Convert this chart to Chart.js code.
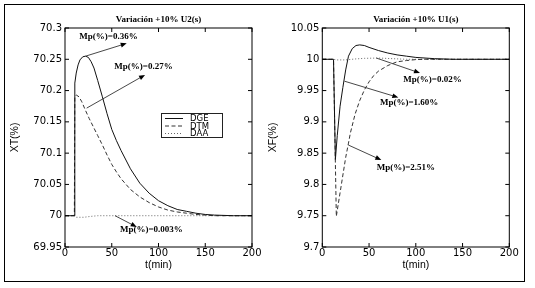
<!DOCTYPE html>
<html>
<head>
<meta charset="utf-8">
<script src="https://cdn.jsdelivr.net/npm/chart.js@4"></script>
<style>
  html, body { margin: 0; padding: 0; background: #fff; }
  #wrap { position: relative; width: 535px; height: 288px; overflow: hidden; background: #fff; }
  #frame { position: absolute; left: 4px; top: 4px; width: 521px; height: 278px; border: 1.5px solid #000; box-sizing: border-box; }
  canvas { position: absolute; top: 0; }
  #c1 { left: 0; }
  #c2 { left: 267px; }
</style>
</head>
<body>
<div id="wrap">
  <div id="frame"></div>
  <canvas id="c1" width="267" height="288"></canvas>
  <canvas id="c2" width="268" height="288"></canvas>
</div>
<script>
// tick labels
const xTicks = [0, 50, 100, 150, 200];
const xtTicks = [69.95, 70, 70.05, 70.1, 70.15, 70.2, 70.25, 70.3];
const xfTicks = [9.7, 9.75, 9.8, 9.85, 9.9, 9.95, 10, 10.05];
const seriesNames = ["DGE", "DTM", "DAA"];

// XT(%) after +10% in U2(s)
const tXtDge = [0, 10, 10.5, 12, 14, 16, 19, 22, 25, 28, 31, 35, 40, 45, 50, 55, 60, 70, 80, 90, 100, 110, 120, 130, 140, 150, 160, 180, 200];
const xtDge = [70, 70, 70.212, 70.228, 70.241, 70.249, 70.254, 70.255, 70.253, 70.246, 70.236, 70.216, 70.19, 70.163, 70.138, 70.12, 70.104, 70.075, 70.052, 70.036, 70.024, 70.016, 70.01, 70.007, 70.004, 70.002, 70.001, 70, 70];
const tXtDtm = [0, 10, 10.5, 12, 15, 18, 22, 26, 30, 35, 40, 45, 50, 55, 60, 70, 80, 90, 100, 110, 120, 130, 140, 150, 160, 200];
const xtDtm = [70, 70, 70.19, 70.193, 70.19, 70.182, 70.168, 70.155, 70.143, 70.128, 70.113, 70.097, 70.082, 70.07, 70.059, 70.042, 70.03, 70.021, 70.014, 70.009, 70.006, 70.004, 70.002, 70.001, 70, 70];
const tXtDaa = [0, 10, 12, 20, 28, 35, 200];
const xtDaa = [70, 70, 69.9975, 69.9975, 69.999, 70, 70];

// XF(%) after +10% in U1(s)
const tXfDge = [0, 12, 14, 16, 19, 22, 25, 28, 32, 36, 40, 45, 50, 60, 70, 80, 90, 100, 120, 140, 200];
const xfDge = [10, 10, 9.84, 9.878, 9.925, 9.955, 9.983, 10.005, 10.017, 10.022, 10.023, 10.022, 10.019, 10.014, 10.01, 10.007, 10.005, 10.003, 10.001, 10, 10];
const tXfDtm = [0, 12, 15, 20, 25, 28, 30, 35, 40, 45, 50, 55, 60, 70, 80, 90, 100, 110, 200];
const xfDtm = [10, 10, 9.749, 9.796, 9.843, 9.866, 9.882, 9.912, 9.934, 9.951, 9.964, 9.974, 9.981, 9.99, 9.996, 9.998, 9.9995, 10, 10];
const tXfDaa = [0, 12, 15, 25, 35, 45, 60, 75, 90, 200];
const xfDaa = [10, 10, 9.999, 9.999, 10.0005, 10.0015, 10.002, 10.001, 10, 10];

// overshoot notes (data coordinates)
const xtNotes = [
  { text: "Mp(%)=0.36%", from: [22, 70.255], to: [66, 70.2755], at: [15.3, 70.286] },
  { text: "Mp(%)=0.27%", from: [23.2, 70.172], to: [85.6, 70.225], at: [52.7, 70.238] },
  { text: "Mp(%)=0.003%", from: [53.5, 70.0], to: [76.7, 69.982], at: [58.8, 69.977] }
];
const xfNotes = [
  { text: "Mp(%)=0.02%", from: [57.8, 10.002], to: [104.5, 9.978], at: [86.6, 9.967] },
  { text: "Mp(%)=1.60%", from: [23.7, 9.965], to: [81.3, 9.939], at: [61.7, 9.930] },
  { text: "Mp(%)=2.51%", from: [27.8, 9.863], to: [63.1, 9.839], at: [58.2, 9.826] }
];

const pts = (t, v) => t.map((x, i) => ({ x: x, y: v[i] }));
const styles = [
  { borderColor: "#111", borderDash: [] },
  { borderColor: "#333", borderDash: [4, 2.5] },
  { borderColor: "#666", borderDash: [1, 2] }
];
const fmt = v => String(+(+v).toFixed(2));

function drawArrow(ctx, x1, y1, x2, y2) {
  const a = Math.atan2(y2 - y1, x2 - x1);
  ctx.strokeStyle = "#333";
  ctx.lineWidth = 0.9;
  ctx.beginPath();
  ctx.moveTo(x1, y1);
  ctx.lineTo(x2 - 4 * Math.cos(a), y2 - 4 * Math.sin(a));
  ctx.stroke();
  ctx.fillStyle = "#000";
  ctx.beginPath();
  ctx.moveTo(x2, y2);
  ctx.lineTo(x2 - 6 * Math.cos(a) + 2.4 * Math.sin(a), y2 - 6 * Math.sin(a) - 2.4 * Math.cos(a));
  ctx.lineTo(x2 - 6 * Math.cos(a) - 2.4 * Math.sin(a), y2 - 6 * Math.sin(a) + 2.4 * Math.cos(a));
  ctx.closePath();
  ctx.fill();
}

const matlabAxes = {
  id: "matlabAxes",
  afterDraw(chart, args, o) {
    const { ctx, chartArea: a, scales } = chart;
    const xs = scales.x, ys = scales.y;
    ctx.save();
    // box and inward ticks
    ctx.strokeStyle = "#000";
    ctx.lineWidth = 1;
    ctx.strokeRect(a.left, a.top, a.right - a.left, a.bottom - a.top);
    ctx.beginPath();
    xTicks.forEach(v => {
      const p = xs.getPixelForValue(v);
      ctx.moveTo(p, a.bottom); ctx.lineTo(p, a.bottom - 4);
      ctx.moveTo(p, a.top); ctx.lineTo(p, a.top + 4);
    });
    o.yTicks.forEach(v => {
      const p = ys.getPixelForValue(v);
      ctx.moveTo(a.left, p); ctx.lineTo(a.left + 4, p);
      ctx.moveTo(a.right, p); ctx.lineTo(a.right - 4, p);
    });
    ctx.stroke();

    // title
    ctx.fillStyle = "#000";
    ctx.font = 'bold 9px "Liberation Serif"';
    ctx.textAlign = "center";
    ctx.textBaseline = "middle";
    ctx.fillText(o.title, (a.left + a.right) / 2, 19.5);

    // notes with arrows
    o.notes.forEach(n => {
      drawArrow(ctx,
        xs.getPixelForValue(n.from[0]), ys.getPixelForValue(n.from[1]),
        xs.getPixelForValue(n.to[0]), ys.getPixelForValue(n.to[1]));
      ctx.fillStyle = "#000";
      ctx.textAlign = "left";
      ctx.fillText(n.text, xs.getPixelForValue(n.at[0]), ys.getPixelForValue(n.at[1]));
    });

    // legend
    if (o.legend) {
      const lx = a.left + 96, ly = a.top + 85;
      ctx.fillStyle = "#fff";
      ctx.fillRect(lx, ly, 61, 24);
      ctx.strokeStyle = "#222";
      ctx.lineWidth = 1;
      ctx.strokeRect(lx + 0.5, ly + 0.5, 61, 24);
      ctx.font = '8.5px "DejaVu Sans"';
      ctx.textAlign = "left";
      seriesNames.forEach((name, i) => {
        const y = ly + 5.5 + i * 7.5;
        ctx.strokeStyle = styles[i].borderColor;
        ctx.setLineDash(styles[i].borderDash);
        ctx.beginPath();
        ctx.moveTo(lx + 4, y); ctx.lineTo(lx + 22, y);
        ctx.stroke();
        ctx.setLineDash([]);
        ctx.fillStyle = "#000";
        ctx.fillText(name, lx + 29, y + 0.5);
      });
    }
    ctx.restore();
  }
};

function makeChart(id, cfg) {
  return new Chart(document.getElementById(id), {
    type: "line",
    data: {
      datasets: cfg.series.map((s, i) => ({
        label: seriesNames[i],
        data: pts(s[0], s[1]),
        borderColor: styles[i].borderColor,
        borderDash: styles[i].borderDash,
        borderWidth: 1,
        pointRadius: 0,
        tension: 0,
        fill: false
      }))
    },
    options: {
      responsive: false,
      animation: false,
      events: [],
      layout: { padding: { top: 28, right: cfg.padRight, left: 0, bottom: 0 } },
      plugins: {
        legend: { display: false },
        tooltip: { enabled: false },
        matlabAxes: { title: cfg.title, notes: cfg.notes, legend: cfg.legend, yTicks: cfg.yTicks }
      },
      scales: {
        x: {
          type: "linear", min: 0, max: 200,
          afterBuildTicks: s => { s.ticks = xTicks.map(v => ({ value: v })); },
          afterFit: s => { s.height = 41; },
          grid: { display: false, drawTicks: false },
          border: { display: false },
          ticks: { color: "#000", font: { family: "DejaVu Sans", size: 10 }, padding: 0, maxRotation: 0, autoSkip: false, callback: v => fmt(v) },
          title: { display: true, text: "t(min)", color: "#000", font: { family: "Liberation Sans", size: 10.5 }, padding: { top: 0, bottom: 17 } }
        },
        y: {
          type: "linear", min: cfg.yTicks[0], max: cfg.yTicks[cfg.yTicks.length - 1],
          afterBuildTicks: s => { s.ticks = cfg.yTicks.map(v => ({ value: v })); },
          afterFit: s => { s.width = cfg.yWidth; },
          grid: { display: false, drawTicks: false },
          border: { display: false },
          ticks: { color: "#000", font: { family: "DejaVu Sans", size: 10 }, padding: 3, autoSkip: false, callback: v => fmt(v) },
          title: { display: true, text: cfg.yTitle, color: "#000", font: { family: "Liberation Sans", size: 10.5 }, padding: { top: cfg.yTitlePad, bottom: 0 } }
        }
      }
    },
    plugins: [matlabAxes]
  });
}

makeChart("c1", {
  series: [[tXtDge, xtDge], [tXtDtm, xtDtm], [tXtDaa, xtDaa]],
  yTicks: xtTicks, yWidth: 65, padRight: 15, yTitle: "XT(%)", yTitlePad: 8.7,
  title: "Variación +10% U2(s)", notes: xtNotes, legend: true
});
makeChart("c2", {
  series: [[tXfDge, xfDge], [tXfDtm, xfDtm], [tXfDaa, xfDaa]],
  yTicks: xfTicks, yWidth: 55.3, padRight: 25.7, yTitle: "XF(%)", yTitlePad: 0,
  title: "Variación +10% U1(s)", notes: xfNotes, legend: false
});
</script>
</body>
</html>
